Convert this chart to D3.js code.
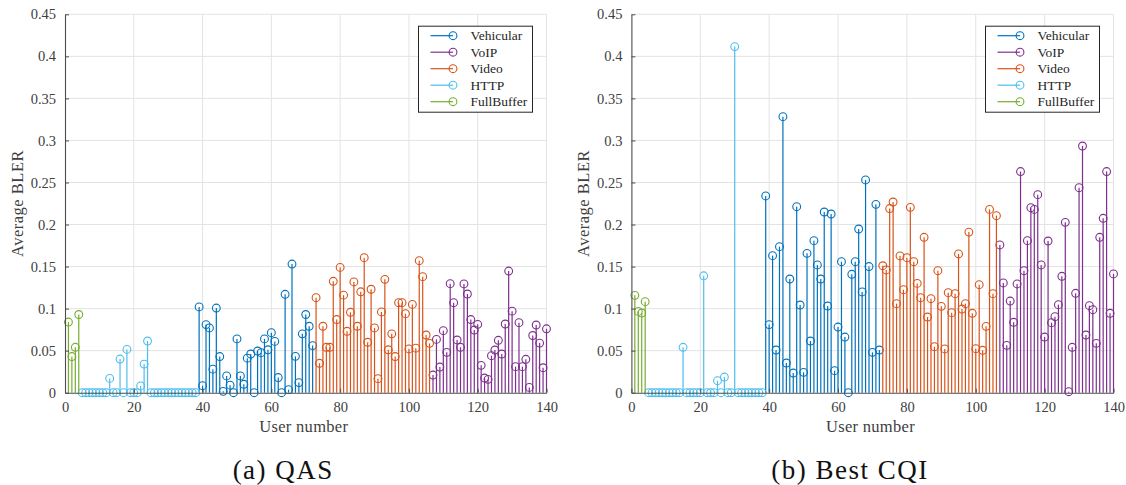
<!DOCTYPE html>
<html>
<head>
<meta charset="utf-8">
<script src="https://cdn.jsdelivr.net/npm/d3@7"></script>
<style>
  html, body { margin: 0; padding: 0; background: #fff; }
  svg text { font-family: "Liberation Serif", "DejaVu Serif", serif; fill: #404040; }
</style>
</head>
<body>
<svg id="chart" width="1126" height="485"></svg>
<script>
// user groups (first user of each class, 34 users per class except FullBuffer)
const classNames = ["Vehicular", "VoIP", "Video", "HTTP", "FullBuffer"];
const classColors = ["#0072BD", "#7E2F8E", "#D95319", "#4DBEEE", "#77AC30"];
const classFirstUser = [39, 107, 73, 5, 1];

const xTicks = [0, 20, 40, 60, 80, 100, 120, 140];
const yTicks = [0, 0.05, 0.1, 0.15, 0.2, 0.25, 0.3, 0.35, 0.4, 0.45];
const captions = ["(a) QAS", "(b) Best CQI"];

// (a) QAS
const qasFullBuffer = [0.084, 0.043, 0.054, 0.093];
const qasHttp = [0, 0, 0, 0, 0, 0, 0, 0, 0.017, 0, 0, 0.040, 0, 0.0515, 0, 0, 0, 0.008, 0.034, 0.0615,
  0, 0, 0, 0, 0, 0, 0, 0, 0, 0, 0, 0, 0, 0];
const qasVehicular = [0.102, 0.0083, 0.081, 0.077, 0.028, 0.1007, 0.043, 0.0016, 0.020, 0.009,
  0, 0.064, 0.020, 0.010, 0.041, 0.046, 0, 0.0496, 0.0476, 0.064,
  0.051, 0.0714, 0.061, 0.018, 0, 0.117, 0.0036, 0.153, 0.0432, 0.012,
  0.070, 0.093, 0.079, 0.056];
const qasVideo = [0.113, 0.035, 0.079, 0.054, 0.054, 0.1325, 0.087, 0.149, 0.116, 0.073,
  0.0956, 0.1317, 0.079, 0.120, 0.1606, 0.060, 0.123, 0.077, 0.0167, 0.096,
  0.1348, 0.051, 0.070, 0.043, 0.107, 0.107, 0.094, 0.052, 0.105, 0.053,
  0.157, 0.138, 0.0686, 0.0587];
const qasVoip = [0.021, 0.0634, 0.0305, 0.0738, 0.048, 0.1297, 0.107, 0.0627, 0.054, 0.1293,
  0.1174, 0.087, 0.0745, 0.0813, 0.0325, 0.0174, 0.0159, 0.044, 0.0508, 0.0623,
  0.046, 0.0817, 0.1447, 0.097, 0.031, 0.0833, 0.031, 0.0397, 0.0063, 0.068,
  0.0805, 0.059, 0.0297, 0.076];

// (b) Best CQI
const cqiFullBuffer = [0.1158, 0.0967, 0.0948, 0.1083];
const cqiHttp = [0, 0, 0, 0, 0, 0, 0, 0, 0, 0, 0.054, 0, 0, 0, 0, 0, 0.139, 0, 0, 0,
  0.0143, 0, 0.0186, 0, 0, 0.4116, 0, 0, 0, 0, 0, 0, 0, 0];
const cqiVehicular = [0.234, 0.081, 0.163, 0.0508, 0.1737, 0.3283, 0.0353, 0.1352, 0.0234, 0.2212,
  0.1043, 0.0242, 0.1657, 0.0615, 0.1808, 0.1519, 0.1352, 0.2149, 0.1031, 0.2125,
  0.0262, 0.0781, 0.1558, 0.0662, 0, 0.1408, 0.1558, 0.1947, 0.1198, 0.253,
  0.150, 0.048, 0.224, 0.0508];
const cqiVideo = [0.151, 0.146, 0.219, 0.2268, 0.1059, 0.1626, 0.1225, 0.1606, 0.2204, 0.1558,
  0.130, 0.113, 0.1848, 0.090, 0.1118, 0.0547, 0.1451, 0.1027, 0.052, 0.119,
  0.0952, 0.1178, 0.165, 0.0995, 0.1059, 0.191, 0.0944, 0.0523, 0.1285, 0.0504,
  0.0789, 0.218, 0.1178, 0.2105];
const cqiVoip = [0.1757, 0.1305, 0.0563, 0.109, 0.0837, 0.1293, 0.263, 0.1451, 0.1808, 0.220,
  0.218, 0.2355, 0.1519, 0.0662, 0.1804, 0.0833, 0.0904, 0.1047, 0.1384, 0.2026,
  0.0012, 0.054, 0.1182, 0.2438, 0.2934, 0.0686, 0.1035, 0.0987, 0.0587, 0.1848,
  0.2074, 0.263, 0.0944, 0.1412];

const panels = [
  { caption: captions[0], series: [qasVehicular, qasVoip, qasVideo, qasHttp, qasFullBuffer], left: 65, right: 546.5 },
  { caption: captions[1], series: [cqiVehicular, cqiVoip, cqiVideo, cqiHttp, cqiFullBuffer], left: 631.4, right: 1113.5 }
];

const plotTop = 14.3;
const plotBottom = 392.7;
const svg = d3.select("#chart");

function tickText(d) {
  return d === 0 ? "0" : String(+d.toFixed(2));
}

panels.forEach((panel) => {
  const x = d3.scaleLinear().domain([0, 140]).range([panel.left, panel.right]);
  const y = d3.scaleLinear().domain([0, 0.45]).range([plotBottom, plotTop]);
  const g = svg.append("g");

  // grid
  g.append("g").selectAll("line").data(xTicks.slice(1)).join("line")
    .attr("x1", (d) => x(d)).attr("x2", (d) => x(d))
    .attr("y1", plotTop).attr("y2", plotBottom)
    .attr("stroke", "#e3e3e3").attr("stroke-width", 1);
  g.append("g").selectAll("line").data(yTicks.slice(1)).join("line")
    .attr("x1", panel.left).attr("x2", panel.right)
    .attr("y1", (d) => y(d)).attr("y2", (d) => y(d))
    .attr("stroke", "#e3e3e3").attr("stroke-width", 1);

  // stems
  panel.series.forEach((values, i) => {
    const pts = values.map((v, k) => ({ u: classFirstUser[i] + k, v }));
    const s = g.append("g").attr("stroke", classColors[i]).attr("fill", "none");
    s.selectAll("line").data(pts).join("line")
      .attr("x1", (d) => x(d.u)).attr("x2", (d) => x(d.u))
      .attr("y1", y(0)).attr("y2", (d) => y(d.v))
      .attr("stroke-width", 1.2);
    s.selectAll("circle").data(pts).join("circle")
      .attr("cx", (d) => x(d.u)).attr("cy", (d) => y(d.v))
      .attr("r", 3.9).attr("stroke-width", 1.1);
  });

  // axes (MATLAB style, ticks inside)
  const xAxis = d3.axisBottom(x).tickValues(xTicks).tickFormat(tickText).tickSizeInner(-4).tickSizeOuter(0).tickPadding(9);
  const yAxis = d3.axisLeft(y).tickValues(yTicks).tickFormat(tickText).tickSizeInner(-4).tickSizeOuter(0).tickPadding(9);
  const gx = g.append("g").attr("transform", `translate(0,${plotBottom})`).call(xAxis);
  const gy = g.append("g").attr("transform", `translate(${panel.left},0)`).call(yAxis);
  [gx, gy].forEach((ax) => {
    ax.select(".domain").attr("stroke", "#4d4d4d").attr("stroke-width", 1.1);
    ax.selectAll(".tick line").attr("stroke", "#4d4d4d");
    ax.selectAll(".tick text").attr("font-size", 14.5).attr("fill", "#404040")
      .attr("font-family", "'Liberation Serif', serif");
  });

  g.append("text")
    .attr("x", (panel.left + panel.right) / 2 - 2).attr("y", 432)
    .attr("text-anchor", "middle").attr("font-size", 16.5).attr("letter-spacing", 0.3)
    .text("User number");
  g.append("text")
    .attr("transform", `translate(${panel.left - 42},${(plotTop + plotBottom) / 2}) rotate(-90)`)
    .attr("text-anchor", "middle").attr("font-size", 16.5).attr("letter-spacing", 0.5)
    .text("Average BLER");

  g.append("text")
    .attr("x", (panel.left + panel.right) / 2 - 22.5).attr("y", 479)
    .attr("text-anchor", "middle").attr("font-size", 27).attr("letter-spacing", 1.5)
    .style("fill", "#111")
    .text(panel.caption);

  // legend
  const lx = panel.right - 128, ly = 26.2;
  const lg = g.append("g").attr("transform", `translate(${lx},${ly})`);
  lg.append("rect").attr("width", 114).attr("height", 86)
    .attr("fill", "#fff").attr("stroke", "#262626").attr("stroke-width", 1);
  classNames.forEach((name, i) => {
    const row = lg.append("g").attr("transform", `translate(0,${9.5 + i * 16.5})`);
    row.append("line").attr("x1", 12).attr("x2", 34.5).attr("y1", 0).attr("y2", 0)
      .attr("stroke", classColors[i]).attr("stroke-width", 1.2);
    row.append("circle").attr("cx", 34.5).attr("cy", 0).attr("r", 3.9)
      .attr("fill", "none").attr("stroke", classColors[i]).attr("stroke-width", 1.1);
    row.append("text").attr("x", 52).attr("y", 4.5).attr("font-size", 13.5)
      .style("fill", "#262626").text(name);
  });
});
</script>
</body>
</html>
